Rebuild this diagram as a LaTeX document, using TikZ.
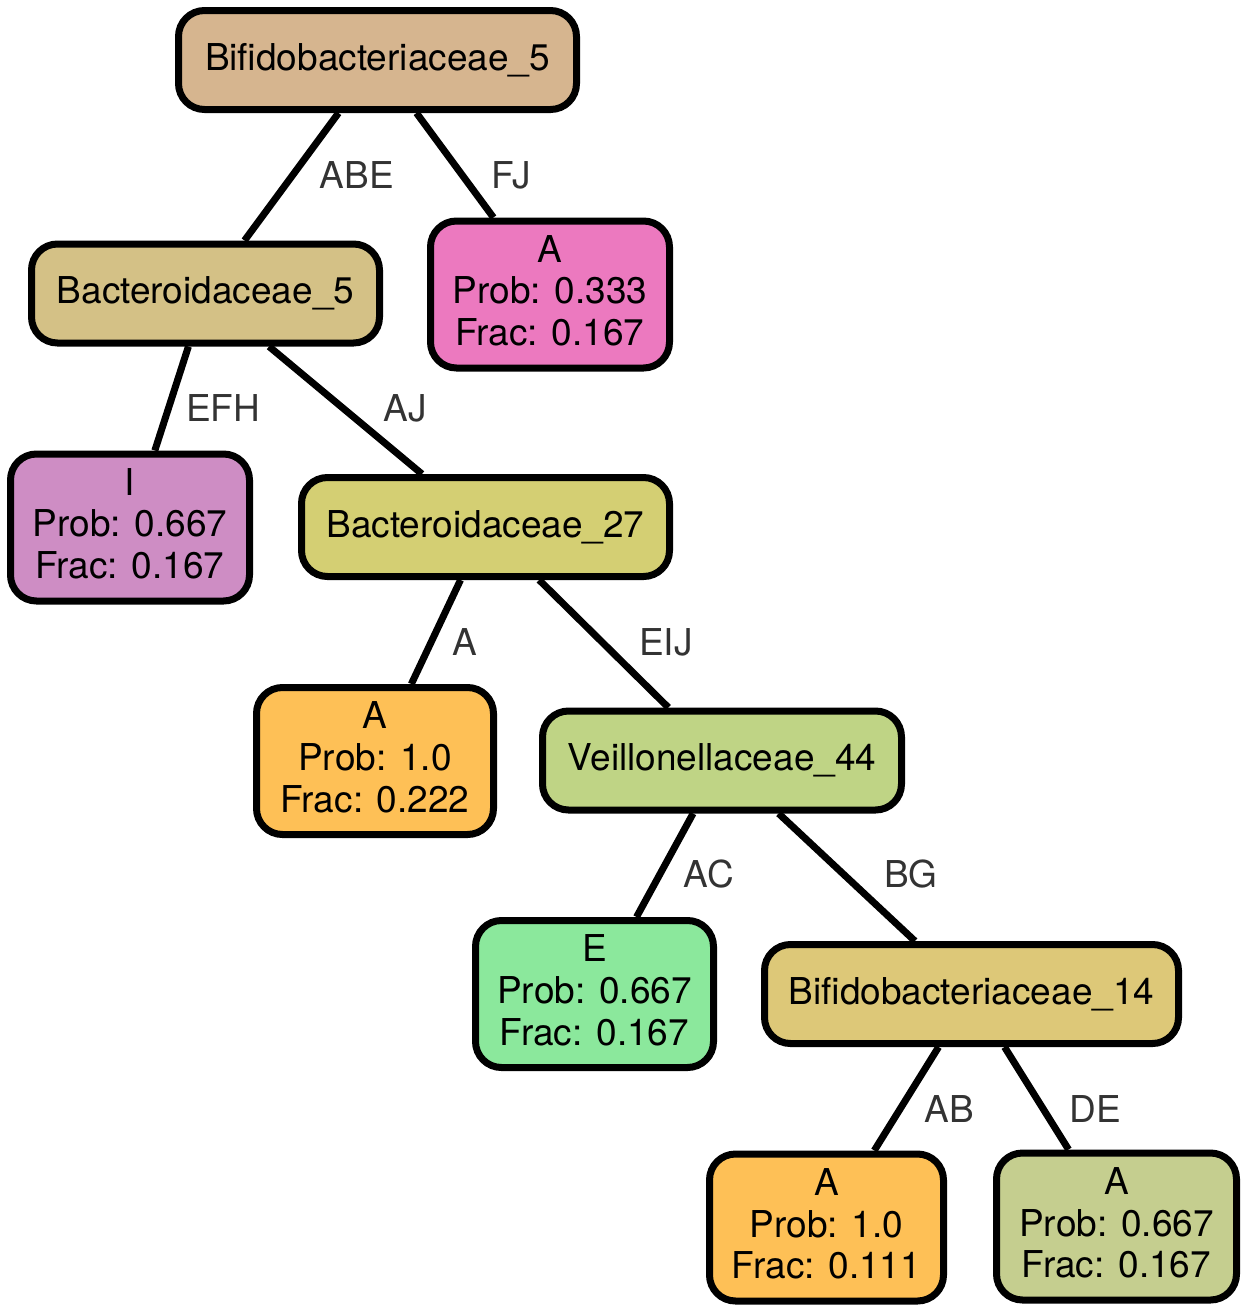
\documentclass[tikz,border=0pt]{standalone}
\usepackage{fontspec}
\setmainfont{TeX Gyre Heros}
\definecolor{bifroot}{RGB}{214,181,143}
\definecolor{bacfive}{RGB}{212,193,134}
\definecolor{leafpink}{RGB}{206,141,196}
\definecolor{leafmagenta}{RGB}{236,121,191}
\definecolor{bactwenty}{RGB}{212,207,115}
\definecolor{leaforange}{RGB}{254,192,86}
\definecolor{veilgreen}{RGB}{191,212,133}
\definecolor{leafgreen}{RGB}{139,232,156}
\definecolor{biffourteen}{RGB}{221,200,120}
\definecolor{leafolive}{RGB}{197,206,143}

\begin{document}
\begin{tikzpicture}[x=0.5pt,y=-0.5pt,
  box/.style={draw=black,line width=3.5pt,rounded corners=13pt,inner sep=0pt,
    align=center,font=\fontsize{18.5}{20.8}\selectfont},
  split/.style={box,minimum height=49.5pt},
  leaf/.style={box,minimum height=73.5pt,execute at end node={\rule[-4pt]{0pt}{0pt}}},
  lbl/.style={anchor=base,inner sep=0pt,text=black!80,font=\fontsize{18.5}{20.8}\selectfont}]
  \useasboundingbox (0,0) rectangle (1247,1313);

  \node[split,fill=bifroot,minimum width=199pt] (bif5) at (377.5,60) {Bifidobacteriaceae\_5};
  \node[split,fill=bacfive,minimum width=174pt] (bac5) at (205.5,293.5) {Bacteroidaceae\_5};
  \node[leaf,fill=leafmagenta,minimum width=119.5pt] (leafFJ) at (550,294.5) {A\\Prob: 0.333\\Frac: 0.167};
  \node[leaf,fill=leafpink,minimum width=119.5pt] (leafEFH) at (130,527.5) {I\\Prob: 0.667\\Frac: 0.167};
  \node[split,fill=bactwenty,minimum width=184pt] (bac27) at (485.5,527) {Bacteroidaceae\_27};
  \node[leaf,fill=leaforange,minimum width=118.5pt] (leafA) at (375,761) {A\\Prob: 1.0\\Frac: 0.222};
  \node[split,fill=veilgreen,minimum width=179.5pt] (veil44) at (722,760.5) {Veillonellaceae\_44};
  \node[leaf,fill=leafgreen,minimum width=119pt] (leafAC) at (594.5,994) {E\\Prob: 0.667\\Frac: 0.167};
  \node[split,fill=biffourteen,minimum width=207pt] (bif14) at (971.5,994) {Bifidobacteriaceae\_14};
  \node[leaf,fill=leaforange,minimum width=117pt] (leafAB) at (826.5,1227.5) {A\\Prob: 1.0\\Frac: 0.111};
  \node[leaf,fill=leafolive,minimum width=120pt] (leafDE) at (1116.5,1226.5) {A\\Prob: 0.667\\Frac: 0.167};

  % edges and their labels
  \foreach \a/\b/\l/\lx/\ly in {bif5/bac5/ABE/357/188, bif5/leafFJ/FJ/511/188,
    bac5/leafEFH/EFH/223/421, bac5/bac27/AJ/405/421,
    bac27/leafA/A/465/655, bac27/veil44/EIJ/666/655,
    veil44/leafAC/AC/709/887, veil44/bif14/BG/911/887,
    bif14/leafAB/AB/949/1122, bif14/leafDE/DE/1095/1122}
  {
    \draw[line width=3.5pt] (\a) -- (\b);
    \node[lbl] (l\l) at (\lx,\ly) {\l};
    }
\end{tikzpicture}
\end{document}
